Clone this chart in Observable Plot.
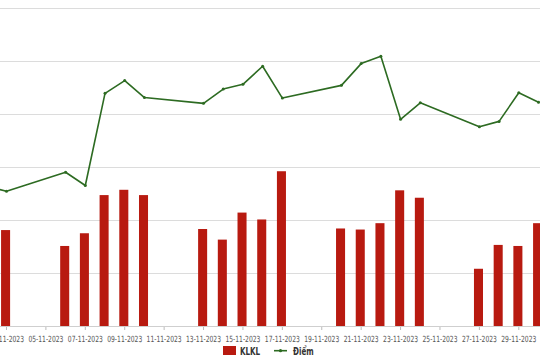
<!DOCTYPE html>
<html>
<head>
<meta charset="utf-8">
<script src="https://cdn.jsdelivr.net/npm/d3@7"></script>
<script src="https://cdn.jsdelivr.net/npm/@observablehq/plot@0.6"></script>
<style>
  html, body { margin: 0; padding: 0; background: #fff; }
  #wrap { width: 540px; height: 360px; position: relative; overflow: hidden; font-family: "DejaVu Sans", sans-serif; }
  #chart { position: absolute; left: 0; top: 0; }
  #legend { position: absolute; left: 0; top: 342px; }
</style>
</head>
<body>
<div id="wrap">
  <div id="chart"></div>
  <svg id="legend" width="540" height="18">
    <rect x="223" y="4" width="13" height="9" fill="#b81a10"></rect>
    <text transform="translate(240,12.5) scale(0.68,1)" font-size="10.5" font-weight="bold" fill="#333">KLKL</text>
    <line x1="274" y1="8.7" x2="287" y2="8.7" stroke="#2d6b22" stroke-width="1.6"></line>
    <circle cx="280.5" cy="8.7" r="1.6" fill="#2d6b22"></circle>
    <text transform="translate(293,12.5) scale(0.68,1)" font-size="10.5" font-weight="bold" fill="#333">Điểm</text>
  </svg>
</div>
<script>
const dates = ["2023-11-02","2023-11-03","2023-11-06","2023-11-07","2023-11-08","2023-11-09","2023-11-10",
  "2023-11-13","2023-11-14","2023-11-15","2023-11-16","2023-11-17",
  "2023-11-20","2023-11-21","2023-11-22","2023-11-23","2023-11-24",
  "2023-11-27","2023-11-28","2023-11-29","2023-11-30"];
const klkl = [null, 18.1, 15.1, 17.5, 24.7, 25.7, 24.7,
  18.3, 16.3, 21.4, 20.1, 29.2,
  18.4, 18.2, 19.4, 25.6, 24.2,
  10.8, 15.3, 15.1, 19.4];
const diem = [26.5, 25.5, 29.1, 26.6, 44.0, 46.4, 43.2,
  42.1, 44.8, 45.7, 49.1, 43.1,
  45.5, 49.6, 51.0, 39.1, 42.2,
  37.7, 38.7, 44.1, 42.3];
const tickDates = ["2023-11-03","2023-11-05","2023-11-07","2023-11-09","2023-11-11","2023-11-13","2023-11-15",
  "2023-11-17","2023-11-19","2023-11-21","2023-11-23","2023-11-25","2023-11-27","2023-11-29"];
const yGrid = [0, 10, 20, 30, 40, 50, 60];

const rows = dates.map((d, i) => ({date: new Date(d + "T00:00:00Z"), klkl: klkl[i], diem: diem[i]}));
const ticks = tickDates.map(d => new Date(d + "T00:00:00Z"));
const fmt = d3.utcFormat("%d-%m-%Y");

const chart = Plot.plot({
  width: 540,
  height: 346,
  marginLeft: 0,
  marginRight: 0,
  marginTop: 8,
  marginBottom: 20,
  style: {fontFamily: '"DejaVu Sans", sans-serif', fontSize: "8.5px", background: "transparent", overflow: "visible"},
  x: {type: "utc", domain: [new Date(Date.UTC(2023,10,2,16,42)), new Date(Date.UTC(2023,10,30,2,26))]},
  y: {domain: [0, 60], axis: null},
  marks: [
    Plot.ruleY(yGrid, {stroke: "#dcdcdc", strokeWidth: 1}),
    Plot.axisX({ticks: ticks, tickFormat: fmt, tickSize: 4, tickPadding: 5, stroke: "#bbb", color: "#555", fontSize: 8.5}),
    Plot.rectY(rows, {
      x1: d => d3.utcHour.offset(d.date, -5.5),
      x2: d => d3.utcHour.offset(d.date, 5.5),
      y: "klkl",
      fill: "#b81a10",
      clip: true
    }),
    Plot.lineY(rows, {x: "date", y: "diem", stroke: "#2d6b22", strokeWidth: 1.6, clip: true}),
    Plot.dot(rows, {x: "date", y: "diem", r: 1.5, fill: "#2d6b22", clip: true}),
    Plot.ruleY([0], {stroke: "#cfcfcf"})
  ]
});
d3.select(chart).selectAll('g[aria-label="x-axis tick label"] text')
  .attr("transform", function() { return (this.getAttribute("transform") || "") + " scale(0.71,1)"; });
document.getElementById("chart").appendChild(chart);
</script>
</body>
</html>
